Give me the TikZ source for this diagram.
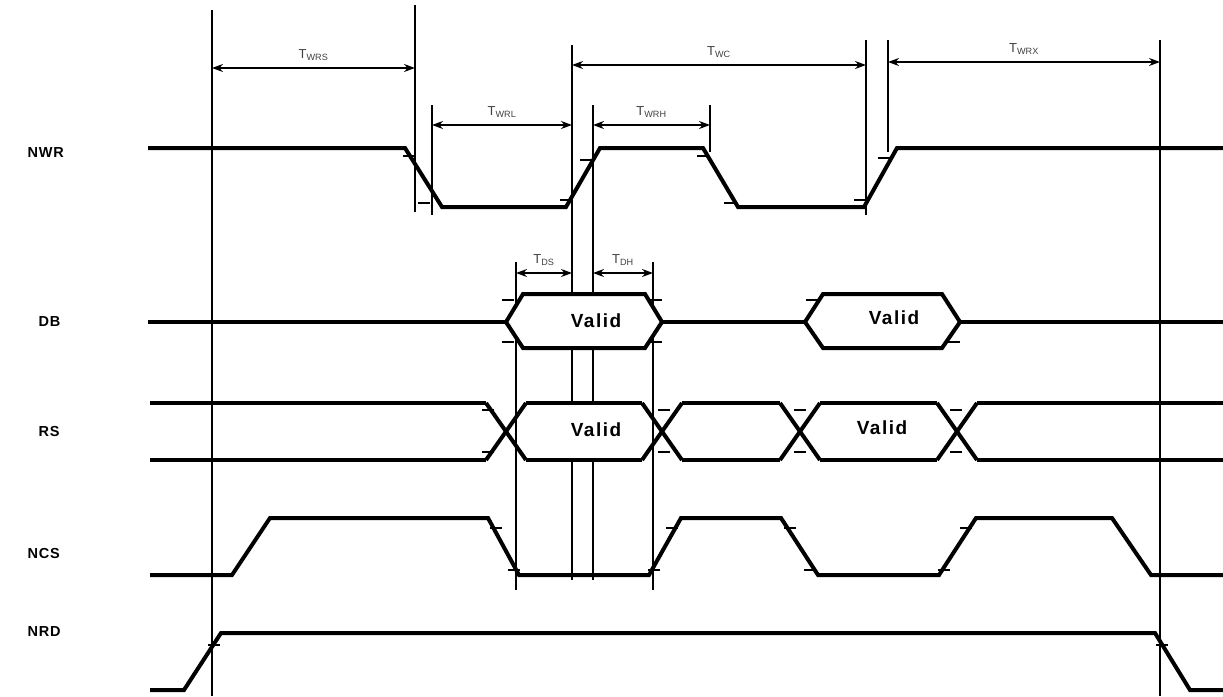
\documentclass[tikz,border=0pt]{standalone}
\usepackage{fontspec}
\setmainfont{Liberation Sans}
\usetikzlibrary{arrows.meta}
\begin{document}
\begin{tikzpicture}[x=1pt,y=-1pt,
  sig/.style={line width=4pt, line join=miter},
  guide/.style={line width=2.4pt},
  tickm/.style={line width=1.5pt},
  dim/.style={line width=1.8pt,{Stealth[length=11pt,width=8pt]}-{Stealth[length=11pt,width=8pt]}},
  lbl/.style={font=\fontsize{14.5}{16}\selectfont\bfseries\addfontfeature{LetterSpace=6}, anchor=west},
  tl/.style={font=\fontsize{13}{14}\selectfont, text=black!75},
  val/.style={font=\fontsize{19}{21}\selectfont\bfseries\addfontfeature{LetterSpace=8}}]
\useasboundingbox (0,0) rectangle (1223,696);
% signal names
\node[lbl] (nwr) at (24,153) {NWR};
\node[lbl] (db)  at (35,322) {DB};
\node[lbl] (rs)  at (35,432) {RS};
\node[lbl] (ncs) at (24,554) {NCS};
\node[lbl] (nrd) at (24,632) {NRD};
% guide lines
\draw[guide] (212,10) -- (212,696);
\draw[guide] (415,5) -- (415,212);
\draw[guide] (432,105) -- (432,215);
\draw[guide] (572,45) -- (572,580);
\draw[guide] (593,105) -- (593,580);
\draw[guide] (710,105) -- (710,152);
\draw[guide] (866,40) -- (866,215);
\draw[guide] (888,40) -- (888,152);
\draw[guide] (1160,40) -- (1160,696);
\draw[guide] (516,262) -- (516,590);
\draw[guide] (653,262) -- (653,590);
% dimension arrows
\coordinate (a1) at (212,68); \coordinate (b1) at (415,68);
\draw[dim] (a1) -- node[tl,above=3pt] (t1) {T\textsubscript{WRS}} (b1);
\coordinate (a2) at (432,125); \coordinate (b2) at (572,125);
\draw[dim] (a2) -- node[tl,above=3pt] (t2) {T\textsubscript{WRL}} (b2);
\coordinate (a3) at (593,125); \coordinate (b3) at (710,125);
\draw[dim] (a3) -- node[tl,above=3pt] (t3) {T\textsubscript{WRH}} (b3);
\coordinate (a4) at (572,65); \coordinate (b4) at (866,65);
\draw[dim] (a4) -- node[tl,above=3pt] (t4) {T\textsubscript{WC}} (b4);
\coordinate (a5) at (888,62); \coordinate (b5) at (1160,62);
\draw[dim] (a5) -- node[tl,above=3pt] (t5) {T\textsubscript{WRX}} (b5);
\coordinate (a6) at (516,273); \coordinate (b6) at (572,273);
\draw[dim] (a6) -- node[tl,above=3pt] (t6) {T\textsubscript{DS}} (b6);
\coordinate (a7) at (593,273); \coordinate (b7) at (653,273);
\draw[dim] (a7) -- node[tl,above=3pt] (t7) {T\textsubscript{DH}} (b7);
% NWR
\draw[sig] (148,148) -- (405,148) -- (442,207) -- (566,207) -- (600,148) -- (703,148) -- (738,207) -- (864,207) -- (897,148) -- (1223,148);
% DB
\draw[sig] (148,322) -- (506,322);
\draw[sig] (662,322) -- (805,322);
\draw[sig] (960,322) -- (1223,322);
\draw[sig,fill=white] (506,322) -- (523,294) -- (645,294) -- (662,322) -- (645,348) -- (523,348) -- cycle;
\draw[sig,fill=white] (805,322) -- (823,294) -- (942,294) -- (960,322) -- (942,348) -- (823,348) -- cycle;
\node[val] (v1) at (596,321) {Valid};
\node[val] (v2) at (894,318) {Valid};
% RS
\fill[white] (506,431.5) -- (526,403) -- (642,403) -- (662,431.5) -- (642,460) -- (526,460) -- cycle;
\draw[guide] (516,403) -- (516,460);
\draw[guide] (653,403) -- (653,460);
\foreach \yy in {403,460} {
  \draw[sig] (150,\yy) -- (486,\yy);
  \draw[sig] (526,\yy) -- (642,\yy);
  \draw[sig] (682,\yy) -- (780,\yy);
  \draw[sig] (820,\yy) -- (937,\yy);
  \draw[sig] (977,\yy) -- (1223,\yy);
}
\foreach \cc in {506,662,800,957} {
  \draw[sig] (\cc-20,403) -- (\cc+20,460);
  \draw[sig] (\cc-20,460) -- (\cc+20,403);
}
\node[val] (v3) at (596,430) {Valid};
\node[val] (v4) at (882,428) {Valid};
% NCS
\draw[sig] (150,575) -- (232,575) -- (270,518) -- (488,518) -- (519,575) -- (649,575) -- (681,518) -- (781,518) -- (818,575) -- (939,575) -- (976,518) -- (1112,518) -- (1151,575) -- (1223,575);
% NRD
\draw[sig] (150,690) -- (184,690) -- (221,633) -- (1155,633) -- (1190,690) -- (1223,690);
% edge ticks
\foreach \x/\y in {409/156, 424/203, 566/200, 586/160, 703/156, 730/203, 860/200, 884/158,
                   508/300, 508/342, 656/300, 656/342, 812/300, 954/342,
                   496/528, 514/570, 654/570, 672/528, 790/528, 810/570, 944/570, 966/528,
                   488/410, 488/452, 664/410, 664/452, 800/410, 800/452, 956/410, 956/452,
                   214/645, 1162/645}
  \draw[tickm] (\x-6,\y) -- (\x+6,\y);
\end{tikzpicture}
\end{document}
